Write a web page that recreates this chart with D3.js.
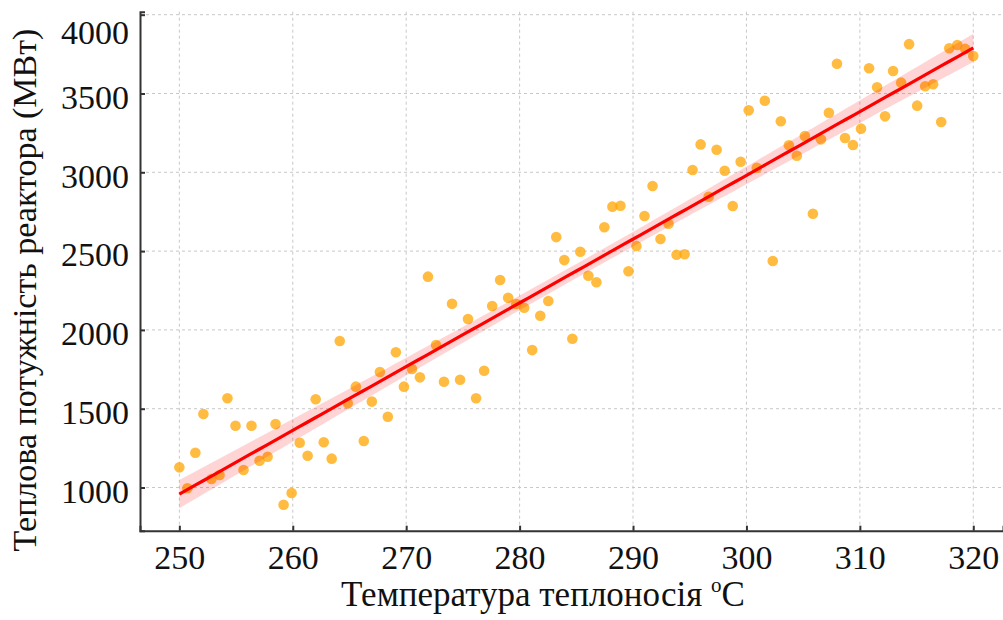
<!DOCTYPE html>
<html>
<head>
<meta charset="utf-8">
<script src="https://cdn.jsdelivr.net/npm/d3@7"></script>
<style>
  html, body { margin: 0; padding: 0; background: #fff; }
  svg { display: block; }
  text { font-family: "Liberation Serif", "Times New Roman", serif; fill: #111; }
</style>
</head>
<body>
<svg id="chart" width="1003" height="620"></svg>
<script>
// ---- data ----
const temperature = [
  250.00, 250.71, 251.41, 252.12, 252.83, 253.54, 254.24, 254.95, 255.66, 256.36,
  257.07, 257.78, 258.48, 259.19, 259.90, 260.61, 261.31, 262.02, 262.73, 263.43,
  264.14, 264.85, 265.56, 266.26, 266.97, 267.68, 268.38, 269.09, 269.80, 270.51,
  271.21, 271.92, 272.63, 273.33, 274.04, 274.75, 275.45, 276.16, 276.87, 277.58,
  278.28, 278.99, 279.70, 280.40, 281.11, 281.82, 282.53, 283.23, 283.94, 284.65,
  285.35, 286.06, 286.77, 287.47, 288.18, 288.89, 289.60, 290.30, 291.01, 291.72,
  292.42, 293.13, 293.84, 294.55, 295.25, 295.96, 296.67, 297.37, 298.08, 298.79,
  299.49, 300.20, 300.91, 301.62, 302.32, 303.03, 303.74, 304.44, 305.15, 305.86,
  306.57, 307.27, 307.98, 308.69, 309.39, 310.10, 310.81, 311.52, 312.22, 312.93,
  313.64, 314.34, 315.05, 315.76, 316.46, 317.17, 317.88, 318.59, 319.29, 320.00
];
const power = [
  1128, 995, 1221, 1466, 1054, 1079, 1566, 1392, 1111, 1392,
  1170, 1195, 1403, 891, 965, 1284, 1202, 1560, 1287, 1183,
  1930, 1534, 1640, 1295, 1545, 1733, 1449, 1858, 1640, 1752,
  1699, 2338, 1904, 1671, 2166, 1684, 2069, 1566, 1741, 2152,
  2317, 2204, 2164, 2141, 1872, 2090, 2183, 2589, 2443, 1944,
  2496, 2344, 2302, 2651, 2782, 2788, 2372, 2532, 2723, 2913,
  2577, 2674, 2477, 2480, 3015, 3177, 2845, 3143, 3010, 2786,
  3067, 3393, 3029, 3454, 2437, 3324, 3171, 3105, 3230, 2737,
  3209, 3378, 3689, 3218, 3173, 3277, 3660, 3539, 3355, 3643,
  3569, 3813, 3423, 3546, 3559, 3319, 3787, 3808, 3783, 3738
];
const xTicks = [250, 260, 270, 280, 290, 300, 310, 320];
const yTicks = [1000, 1500, 2000, 2500, 3000, 3500, 4000];
const xTitle = "Температура теплоносія ";
const xTitleUnit = ["o", "C"];
const yTitle = "Теплова потужність реактора (МВт)";

// ---- layout ----
const svg = d3.select("#chart");
const pLeft = 140, pRight = 1003, pTop = 11.7, pBottom = 530.7;
const x = d3.scaleLinear().domain([246.53, 322.62]).range([pLeft, pRight]);
const y = d3.scaleLinear().domain([726, 4019]).range([pBottom, pTop]);

// grid
const grid = svg.append("g");
grid.selectAll("line.gx").data(xTicks).enter().append("line")
  .attr("x1", d => x(d)).attr("x2", d => x(d))
  .attr("y1", pTop).attr("y2", pBottom)
  .attr("stroke", "#c8c8c8").attr("stroke-width", 1).attr("stroke-dasharray", "3,3");
grid.selectAll("line.gy").data(yTicks).enter().append("line")
  .attr("x1", pLeft).attr("x2", pRight)
  .attr("y1", d => y(d)).attr("y2", d => y(d))
  .attr("stroke", "#c8c8c8").attr("stroke-width", 1).attr("stroke-dasharray", "3,3");

// regression + 95% CI
const pts = temperature.map((t, i) => ({ x: t, y: power[i] }));
const n = pts.length;
const mx = d3.mean(pts, d => d.x), my = d3.mean(pts, d => d.y);
const sxx = d3.sum(pts, d => (d.x - mx) ** 2);
const sxy = d3.sum(pts, d => (d.x - mx) * (d.y - my));
const b = sxy / sxx, a = my - b * mx;
const s = Math.sqrt(d3.sum(pts, d => (d.y - (a + b * d.x)) ** 2) / (n - 2));
const tcrit = 1.984;
const xmin = d3.min(temperature), xmax = d3.max(temperature);
const fitGrid = d3.range(0, 101).map(k => xmin + (xmax - xmin) * k / 100);
const band = fitGrid.map(t => {
  const yh = a + b * t;
  const se = s * Math.sqrt(1 / n + (t - mx) ** 2 / sxx);
  return { x: t, lo: yh - tcrit * se, hi: yh + tcrit * se, yh };
});

// points
svg.append("g").selectAll("circle").data(pts).enter().append("circle")
  .attr("cx", d => x(d.x)).attr("cy", d => y(d.y)).attr("r", 5.3)
  .attr("fill", "#FFA500").attr("fill-opacity", 0.75);

svg.append("path").datum(band)
  .attr("d", d3.area().x(d => x(d.x)).y0(d => y(d.lo)).y1(d => y(d.hi)))
  .attr("fill", "#ff0000").attr("fill-opacity", 0.17);
svg.append("path").datum(band)
  .attr("d", d3.line().x(d => x(d.x)).y(d => y(d.yh)))
  .attr("fill", "none").attr("stroke", "#ff0000").attr("stroke-width", 3.2);

// axes
const axisColor = "#333";
const xAxis = svg.append("g").attr("transform", `translate(0,${pBottom})`)
  .call(d3.axisBottom(x).tickValues(xTicks).tickSize(-5).tickPadding(14).tickFormat(d3.format("d")));
const yAxis = svg.append("g").attr("transform", `translate(${pLeft},0)`)
  .call(d3.axisLeft(y).tickValues(yTicks).tickSize(-5).tickPadding(11).tickFormat(d3.format("d")));
[xAxis, yAxis].forEach(g => {
  g.select(".domain").attr("stroke", axisColor).attr("stroke-width", 2);
  g.selectAll(".tick line").attr("stroke", axisColor).attr("stroke-width", 2);
  g.selectAll(".tick text").attr("font-size", 34).attr("fill", "#111")
    .style("font-family", '"Liberation Serif", "Times New Roman", serif');
});
xAxis.selectAll(".tick text").attr("dy", "0.71em");
yAxis.selectAll(".tick text").attr("y", d => Math.max(4, 33 - y(d)));

// titles
const xt = svg.append("text").attr("x", 543).attr("y", 606)
  .attr("text-anchor", "middle").attr("font-size", 35).text(xTitle);
xt.append("tspan").attr("font-size", 21).attr("dy", -14).text(xTitleUnit[0]);
xt.append("tspan").attr("dy", 14).text(xTitleUnit[1]);

svg.append("text").attr("transform", "translate(36,290) rotate(-90)")
  .attr("text-anchor", "middle").attr("font-size", 34).text(yTitle);
</script>
</body>
</html>
